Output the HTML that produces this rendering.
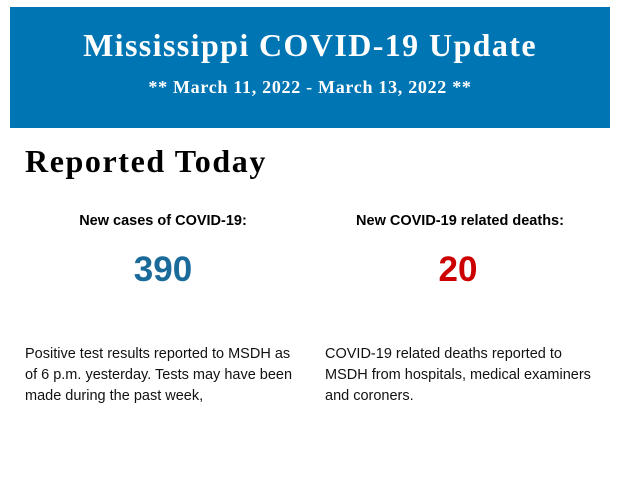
<!DOCTYPE html>
<html><head><style>
body{margin:0;width:620px;height:483px;background:#fff;position:relative;overflow:hidden}
.hdr{position:absolute;left:10px;top:7px;width:600px;height:121px;background:#0075b4;color:#fff;font-family:"Liberation Serif",serif;font-weight:bold;text-align:center}
.t1{position:absolute;left:0;right:0;top:20px;font-size:32px;line-height:36px;letter-spacing:1.4px}
.t2{position:absolute;left:0;right:0;top:69px;font-size:18px;line-height:22px;letter-spacing:0.7px}
.rt{position:absolute;left:25px;top:143px;font-family:"Liberation Serif",serif;font-weight:bold;font-size:32px;line-height:36px;color:#000;letter-spacing:1.6px}
.lab{position:absolute;top:212px;font-family:"Liberation Sans",sans-serif;font-weight:bold;font-size:14.5px;line-height:18px;text-align:center;width:300px}
.num{position:absolute;top:249px;font-family:"Liberation Sans",sans-serif;font-weight:bold;font-size:35px;line-height:42px;text-align:center;width:300px}
.p{position:absolute;top:344px;font-family:"Liberation Sans",sans-serif;font-size:14.5px;line-height:21px;color:#111;width:275px}
</style></head><body>
<div class="hdr"><div class="t1">Mississippi COVID-19 Update</div><div class="t2">** March 11, 2022 - March 13, 2022 **</div></div>
<div class="rt">Reported Today</div>
<div class="lab" style="left:13px">New cases of COVID-19:</div>
<div class="lab" style="left:310px">New COVID-19 related deaths:</div>
<div class="num" style="left:13px;color:#1a6a9a">390</div>
<div class="num" style="left:308px;color:#cc0000">20</div>
<div class="p" style="left:25px">Positive test results reported to MSDH as of 6 p.m. yesterday. Tests may have been made during the past week,</div>
<div class="p" style="left:325px">COVID-19 related deaths reported to MSDH from hospitals, medical examiners and coroners.</div>
</body></html>
